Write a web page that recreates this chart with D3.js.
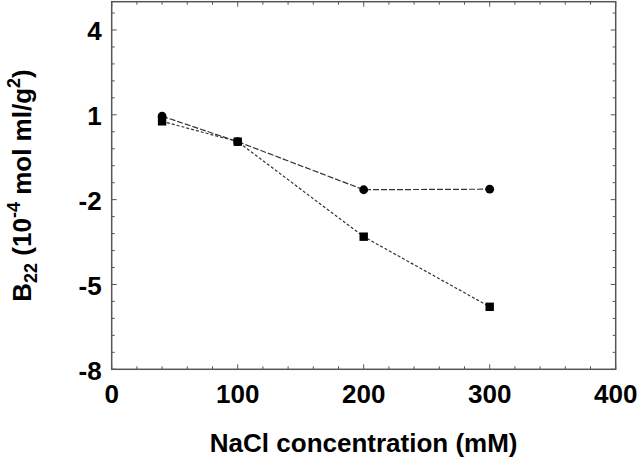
<!DOCTYPE html>
<html>
<head>
<meta charset="utf-8">
<script src="https://cdn.jsdelivr.net/npm/d3@7"></script>
<style>
  html, body { margin: 0; padding: 0; background: #fff; }
  text { font-family: "Liberation Sans", Arial, sans-serif; font-weight: bold; fill: #000; }
</style>
</head>
<body>
<div id="chart-div"></div>
<script>
// data
const nacl      = [40, 100, 200, 300];          // mM
const b22Circle = [0.95, 0.05, -1.65, -1.63];   // 10^-4 mol ml/g^2
const b22Square = [0.77, 0.05, -3.31, -5.79];

const xTicks = [0, 100, 200, 300, 400];
const yTicks = [-8, -5, -2, 1, 4];

// layout
const width  = 640;
const height = 465;
const margin = { top: 1.7, right: 24.3, bottom: 95.7, left: 111.7 };
const COLOR_FRAME = '#555';
const COLOR_LINE  = '#333';
const FONT_TICK  = '26px';
const FONT_TITLE = '26px';

const svg = d3.select('#chart-div').append('svg')
    .attr('width', width)
    .attr('height', height);

const x = d3.scaleLinear()
    .domain([0, 400])
    .range([margin.left, width - margin.right]);
const y = d3.scaleLinear()
    .domain([-8, 5])
    .range([height - margin.bottom, margin.top]);

const x0 = x.range()[0], x1 = x.range()[1];
const y0 = y.range()[0], y1 = y.range()[1];

// minor ticks (every 20 mM / every 0.6 units), ticks on all four sides, pointing in
const xMinor = d3.range(0, 401, 20);
const yMinor = d3.range(0, 22).map(i => -8 + i * 0.6);

const ticks = svg.append('g').attr('stroke', COLOR_FRAME).attr('stroke-width', 1);
xMinor.forEach(v => {
    const len = v % 100 === 0 ? 5 : 3;
    ticks.append('line').attr('x1', x(v)).attr('x2', x(v)).attr('y1', y0).attr('y2', y0 - len);
    ticks.append('line').attr('x1', x(v)).attr('x2', x(v)).attr('y1', y1).attr('y2', y1 + len);
});
yMinor.forEach((v, i) => {
    const len = i % 5 === 0 ? 5 : 3;
    ticks.append('line').attr('y1', y(v)).attr('y2', y(v)).attr('x1', x0).attr('x2', x0 + len);
    ticks.append('line').attr('y1', y(v)).attr('y2', y(v)).attr('x1', x1).attr('x2', x1 - len);
});

// frame
svg.append('rect')
    .attr('x', x0).attr('y', y1)
    .attr('width', x1 - x0).attr('height', y0 - y1)
    .attr('fill', 'none').attr('stroke', COLOR_FRAME).attr('stroke-width', 1.5);

// tick labels
svg.append('g').selectAll('text')
    .data(xTicks).join('text')
    .attr('x', d => x(d)).attr('y', y0 + 34)
    .attr('text-anchor', 'middle')
    .style('font-size', FONT_TICK)
    .text(d => d);
svg.append('g').selectAll('text')
    .data(yTicks).join('text')
    .attr('x', x0 - 10).attr('y', d => y(d) + 10.5)
    .attr('text-anchor', 'end')
    .style('font-size', FONT_TICK)
    .text(d => d);

// axis titles
svg.append('text')
    .attr('x', (x0 + x1) / 2).attr('y', 452)
    .attr('text-anchor', 'middle')
    .style('font-size', FONT_TITLE)
    .text('NaCl concentration (mM)');

const yTitle = svg.append('text')
    .attr('transform', `translate(31,${(y0 + y1) / 2}) rotate(-90)`)
    .attr('text-anchor', 'middle')
    .style('font-size', FONT_TITLE);
yTitle.append('tspan').text('B');
yTitle.append('tspan').attr('dy', 6).style('font-size', '18px').text('22');
yTitle.append('tspan').attr('dy', -6).text(' (10');
yTitle.append('tspan').attr('dy', -11).style('font-size', '18px').text('-4');
yTitle.append('tspan').attr('dy', 11).text(' mol ml/g');
yTitle.append('tspan').attr('dy', -11).style('font-size', '18px').text('2');
yTitle.append('tspan').attr('dy', 11).text(')');

// series
const line = d3.line().x(d => x(d[0])).y(d => y(d[1]));
const circData = nacl.map((v, i) => [v, b22Circle[i]]);
const sqData   = nacl.map((v, i) => [v, b22Square[i]]);

svg.append('path')
    .datum(circData)
    .attr('fill', 'none').attr('stroke', COLOR_LINE).attr('stroke-width', 1.2)
    .attr('stroke-dasharray', '6 2')
    .attr('d', line);
svg.append('path')
    .datum(sqData)
    .attr('fill', 'none').attr('stroke', COLOR_LINE).attr('stroke-width', 1.2)
    .attr('stroke-dasharray', '3 2')
    .attr('d', line);

svg.append('g').selectAll('circle')
    .data(circData).join('circle')
    .attr('cx', d => x(d[0])).attr('cy', d => y(d[1]))
    .attr('r', 4.4).attr('fill', '#000');
svg.append('g').selectAll('rect')
    .data(sqData).join('rect')
    .attr('x', d => x(d[0]) - 4.2).attr('y', d => y(d[1]) - 4.2)
    .attr('width', 8.4).attr('height', 8.4).attr('fill', '#000');
</script>
</body>
</html>
